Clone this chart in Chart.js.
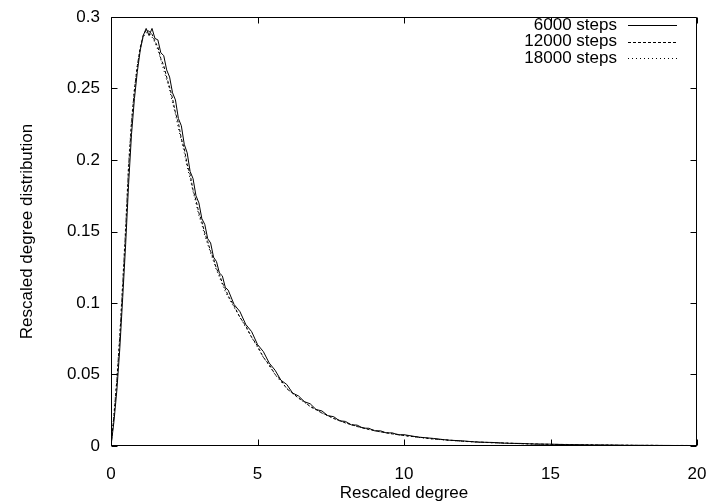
<!DOCTYPE html>
<html>
<head>
<meta charset="utf-8">
<script src="https://cdn.jsdelivr.net/npm/chart.js@4.4.1/dist/chart.umd.min.js"></script>
<style>
  html, body { margin: 0; padding: 0; background: #fff; }
  #wrap { width: 716px; height: 504px; }
</style>
</head>
<body>
<div id="wrap"><canvas id="chart" width="716" height="504"></canvas></div>
<script>
// rescaled degree (x) sample points
const degree = [
  0, 0.1, 0.2, 0.3, 0.4, 0.5, 0.6, 0.7, 0.8, 0.9,
  1.0, 1.1, 1.2, 1.3, 1.4, 1.5, 1.6, 1.7, 1.8, 1.9,
  2.0, 2.1, 2.2, 2.3, 2.4, 2.5, 2.6, 2.7, 2.8, 2.9,
  3.0, 3.1, 3.2, 3.3, 3.4, 3.5, 3.6, 3.7, 3.8, 3.9,
  4.0, 4.2, 4.4, 4.6, 4.8, 5.0, 5.2, 5.4, 5.6, 5.8,
  6.0, 6.2, 6.4, 6.6, 6.8, 7.0, 7.2, 7.4, 7.6, 7.8,
  8.0, 8.2, 8.4, 8.6, 8.8, 9.0, 9.2, 9.4, 9.6, 9.8,
  10.0, 10.5, 11.0, 11.5, 12.0, 12.5, 13.0, 13.5, 14.0, 14.5,
  15.0, 15.5, 16.0, 16.5, 17.0, 17.5, 18.0, 18.5, 19.0, 19.5,
  20.0
];

const steps6000 = [
  0, 0.017, 0.039, 0.068, 0.104, 0.141, 0.183, 0.218, 0.243, 0.262,
  0.277, 0.287, 0.292, 0.287, 0.292, 0.285, 0.284, 0.275, 0.273, 0.263,
  0.258, 0.247, 0.242, 0.229, 0.224, 0.211, 0.205, 0.192, 0.187, 0.175,
  0.170, 0.159, 0.155, 0.145, 0.142, 0.132, 0.129, 0.121, 0.119, 0.111,
  0.109, 0.099, 0.094, 0.085, 0.080, 0.071, 0.066, 0.058, 0.053, 0.046,
  0.043, 0.037, 0.035, 0.031, 0.0295, 0.0255, 0.0245, 0.0212, 0.0205, 0.0176,
  0.0172, 0.0148, 0.0146, 0.0125, 0.0124, 0.0106, 0.0106, 0.0091, 0.0092, 0.0078,
  0.0079, 0.0062, 0.0053, 0.0041, 0.0036, 0.0027, 0.0025, 0.0019, 0.0018, 0.0013,
  0.0013, 0.0010, 0.0009, 0.0007, 0.0007, 0.0005, 0.0005, 0.0004, 0.0004, 0.0003,
  0.0003
];

const steps12000 = [
  0, 0.021, 0.046, 0.076, 0.113, 0.151, 0.195, 0.226, 0.249, 0.266,
  0.279, 0.287, 0.291, 0.290, 0.288, 0.283, 0.279, 0.271, 0.266, 0.258,
  0.251, 0.243, 0.233, 0.226, 0.215, 0.208, 0.197, 0.190, 0.179, 0.172,
  0.163, 0.157, 0.149, 0.143, 0.136, 0.131, 0.124, 0.120, 0.114, 0.110,
  0.105, 0.098, 0.090, 0.084, 0.076, 0.070, 0.062, 0.057, 0.050, 0.046,
  0.040, 0.037, 0.0335, 0.031, 0.0275, 0.0256, 0.0230, 0.0214, 0.0192, 0.0179,
  0.0161, 0.0151, 0.0136, 0.0128, 0.0115, 0.0109, 0.0098, 0.0094, 0.0085, 0.0081,
  0.0073, 0.0062, 0.0049, 0.0042, 0.0033, 0.0029, 0.0023, 0.0021, 0.0016, 0.0015,
  0.0011, 0.0011, 0.0008, 0.0008, 0.0006, 0.0006, 0.0004, 0.0005, 0.0003, 0.0004,
  0.0003
];

const steps18000 = [
  0, 0.022, 0.047, 0.078, 0.115, 0.154, 0.198, 0.228, 0.250, 0.266,
  0.278, 0.286, 0.289, 0.289, 0.286, 0.282, 0.277, 0.270, 0.263, 0.256,
  0.249, 0.240, 0.232, 0.222, 0.214, 0.205, 0.195, 0.187, 0.178, 0.170,
  0.161, 0.155, 0.147, 0.141, 0.135, 0.129, 0.123, 0.118, 0.113, 0.108,
  0.104, 0.097, 0.090, 0.083, 0.076, 0.069, 0.062, 0.056, 0.050, 0.045,
  0.0405, 0.0365, 0.0335, 0.0305, 0.0277, 0.0252, 0.0231, 0.0211, 0.0193, 0.0177,
  0.0162, 0.0149, 0.0137, 0.0126, 0.0116, 0.0107, 0.0099, 0.0092, 0.0085, 0.0079,
  0.0073, 0.0060, 0.0049, 0.0040, 0.0033, 0.0027, 0.0023, 0.0019, 0.0016, 0.0013,
  0.0011, 0.0010, 0.0008, 0.0007, 0.0006, 0.0005, 0.0004, 0.0004, 0.0003, 0.0003,
  0.0002
];

const seriesLabels = ['6000 steps', '12000 steps', '18000 steps'];
const xTicks = [0, 5, 10, 15, 20];
const yTicks = [0, 0.05, 0.1, 0.15, 0.2, 0.25, 0.3];

const FONT = { family: '"Liberation Sans", Arial, Helvetica, sans-serif', size: 17 };

const toPoints = (ys) => degree.map((x, i) => ({ x, y: ys[i] }));

// gnuplot-style frame with inward ticks on all four sides, plus the key
const framePlugin = {
  id: 'frame',
  afterDatasetsDraw(chart) {
    const { ctx, chartArea: a, scales } = chart;
    const L = Math.round(a.left) + 0.5, R = Math.round(a.right) - 0.5;
    const T = Math.round(a.top) + 0.5, B = Math.round(a.bottom) - 0.5;
    const tick = 6;
    ctx.save();
    ctx.strokeStyle = '#000';
    ctx.lineWidth = 1;
    ctx.setLineDash([]);
    ctx.beginPath();
    ctx.rect(L, T, R - L, B - T);
    xTicks.forEach((v) => {
      const px = Math.round(scales.x.getPixelForValue(v)) + 0.5;
      ctx.moveTo(px, B); ctx.lineTo(px, B - tick);
      ctx.moveTo(px, T); ctx.lineTo(px, T + tick);
    });
    yTicks.forEach((v) => {
      const py = Math.round(scales.y.getPixelForValue(v)) + 0.5;
      ctx.moveTo(L, py); ctx.lineTo(L + tick, py);
      ctx.moveTo(R, py); ctx.lineTo(R - tick, py);
    });
    ctx.stroke();

    // key: right-aligned label, line sample to its right
    ctx.font = `${FONT.size}px ${FONT.family}`;
    ctx.fillStyle = '#000';
    ctx.textAlign = 'right';
    ctx.textBaseline = 'middle';
    chart.data.datasets.forEach((ds, i) => {
      const y = 25 + i * 16.5;
      ctx.fillText(ds.label, 617, y);
      ctx.setLineDash(ds.borderDash || []);
      ctx.beginPath();
      ctx.moveTo(628, Math.round(y) + 0.5);
      ctx.lineTo(677, Math.round(y) + 0.5);
      ctx.stroke();
    });
    ctx.restore();
  }
};

const line = (label, data, dash) => ({
  label,
  data: toPoints(data),
  borderColor: '#000',
  borderWidth: 1,
  borderDash: dash,
  pointRadius: 0,
  fill: false,
  tension: 0
});

new Chart(document.getElementById('chart'), {
  type: 'line',
  data: {
    datasets: [
      line(seriesLabels[0], steps6000, []),
      line(seriesLabels[1], steps12000, [3, 2]),
      line(seriesLabels[2], steps18000, [1, 3])
    ]
  },
  options: {
    responsive: false,
    animation: false,
    devicePixelRatio: 1,
    layout: { padding: { left: 0, right: 19, top: 17, bottom: 0 } },
    plugins: {
      legend: { display: false },
      tooltip: { enabled: false }
    },
    scales: {
      x: {
        type: 'linear',
        min: 0,
        max: 20,
        afterFit: (s) => { s.height = 58; s.paddingLeft = 0; s.paddingRight = 0; },
        afterBuildTicks: (s) => { s.ticks = xTicks.map((v) => ({ value: v })); },
        ticks: { font: FONT, color: '#000', padding: 18, maxRotation: 0, callback: (v) => String(v) },
        grid: { display: false, drawTicks: false },
        border: { display: false },
        title: { display: true, text: 'Rescaled degree', font: FONT, color: '#000', padding: { top: 0, bottom: 0 } }
      },
      y: {
        type: 'linear',
        min: 0,
        max: 0.3,
        afterFit: (s) => { s.width = 111; s.paddingTop = 0; s.paddingBottom = 0; },
        afterBuildTicks: (s) => { s.ticks = yTicks.map((v) => ({ value: v })); },
        ticks: { font: FONT, color: '#000', padding: 11, callback: (v) => String(+v.toFixed(2)) },
        grid: { display: false, drawTicks: false },
        border: { display: false },
        title: { display: true, text: 'Rescaled degree distribution', font: FONT, color: '#000', padding: { top: 17, bottom: 0 } }
      }
    }
  },
  plugins: [framePlugin]
});
</script>
</body>
</html>
